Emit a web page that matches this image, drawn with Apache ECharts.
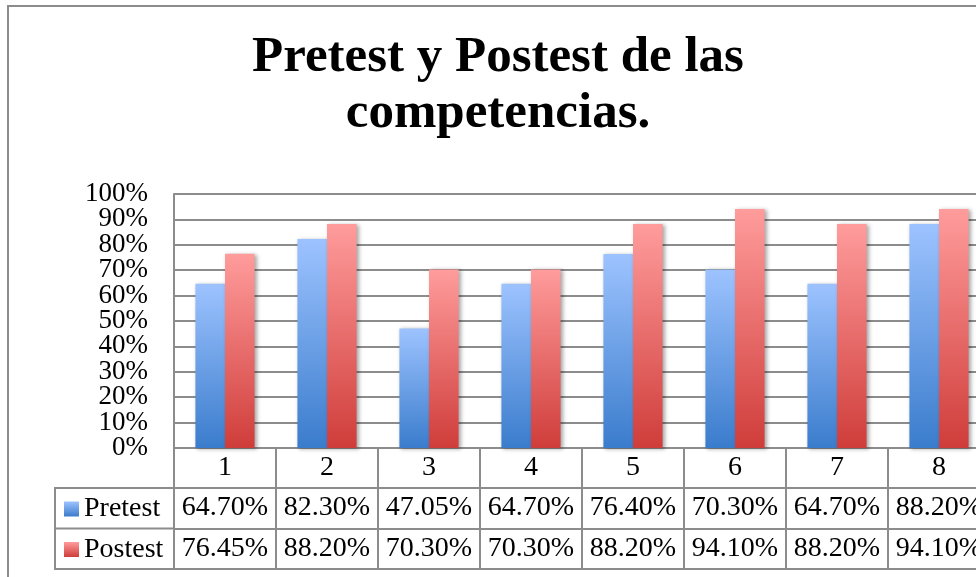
<!DOCTYPE html>
<html>
<head>
<meta charset="utf-8">
<script src="https://cdn.jsdelivr.net/npm/echarts@6/dist/echarts.min.js"></script>
<style>
html,body{margin:0;padding:0;background:#fff;overflow:hidden;width:976px;height:577px;}
#chart{width:996px;height:577px;}
</style>
</head>
<body>
<div id="chart"></div>
<script>
const titleText = 'Pretest y Postest de las\ncompetencias.';
const categories = ['1','2','3','4','5','6','7','8'];
const seriesNames = ['Pretest','Postest'];
const pretest = [64.70, 82.30, 47.05, 64.70, 76.40, 70.30, 64.70, 88.20];
const postest = [76.45, 88.20, 70.30, 70.30, 88.20, 94.10, 88.20, 94.10];
const yTicks = [0,10,20,30,40,50,60,70,80,90,100];

const FONT = 'Liberation Serif';
const GRAY = '#8c8c8c';
const chart = echarts.init(document.getElementById('chart'), null, {renderer:'canvas'});

const blueGrad = new echarts.graphic.LinearGradient(0,0,0,1,[
  {offset:0,color:'#9dc3ff'},{offset:1,color:'#3a7ccc'}]);
const redGrad = new echarts.graphic.LinearGradient(0,0,0,1,[
  {offset:0,color:'#ff9c9c'},{offset:1,color:'#cf3d3a'}]);

const fmt = v => v.toFixed(2) + '%';

function tableAxis(offset, values, showLabels, tickLen){
  return {
    type:'category', data:categories, position:'bottom', offset:offset,
    axisLine:{show:true, onZero:false, lineStyle:{color:GRAY, width:2}},
    axisTick:{show:tickLen>0, length:tickLen, interval:0, lineStyle:{color:GRAY, width:2}},
    axisLabel:{show:showLabels, interval:0, margin:6, fontFamily:FONT, fontSize:28, lineHeight:28, color:'#000',
      formatter:(v, i)=> values ? values[i] : v},
    splitLine:{show:false}
  };
}

function valueAxis(labelValues, main){
  return {
    type:'value', position:'left', min:yTicks[0], max:yTicks[yTicks.length-1], interval:10,
    axisLine:{show:main, onZero:false, lineStyle:{color:GRAY, width:2}},
    axisTick:{show:false},
    axisLabel:{margin:26, fontFamily:FONT, fontSize:27, color:'#000',
      customValues:labelValues, showMinLabel:true, showMaxLabel:true, formatter:v=>v+'%'},
    splitLine:{show:main, lineStyle:{color:GRAY, width:2}}
  };
}

const option = {
  animation:false,
  backgroundColor:'#fff',
  title:{
    text:titleText, left:'center', top:25,
    textStyle:{fontFamily:FONT, fontWeight:'bold', fontSize:51, lineHeight:56, color:'#000'}
  },
  legend:{
    data:seriesNames, orient:'vertical', left:64, top:495, padding:0, itemWidth:15, itemHeight:15,
    itemGap:12.5, icon:'rect',
    textStyle:{fontFamily:FONT, fontSize:28, color:'#000', lineHeight:28}
  },
  grid:{left:174, top:194, width:816, height:254, containLabel:false},
  xAxis:[
    tableAxis(0, null, true, 40),
    tableAxis(40, pretest.map(fmt), true, 41),
    tableAxis(80.5, postest.map(fmt), true, 41),
    tableAxis(121, null, false, 0)
  ],
  yAxis:[
    valueAxis(yTicks.filter((v,i)=>i%2===0), true),
    valueAxis(yTicks.filter((v,i)=>i%2===1), false)
  ],
  series:[
    {name:seriesNames[0], type:'bar', data:pretest, xAxisIndex:0, yAxisIndex:0, barGap:'0%', barCategoryGap:'42%',
     itemStyle:{color:blueGrad, shadowBlur:4, shadowColor:'rgba(0,0,0,0.35)', shadowOffsetX:2, shadowOffsetY:1}},
    {name:seriesNames[1], type:'bar', data:postest, xAxisIndex:0, yAxisIndex:0, barGap:'0%', barCategoryGap:'42%',
     itemStyle:{color:redGrad, shadowBlur:4, shadowColor:'rgba(0,0,0,0.35)', shadowOffsetX:2, shadowOffsetY:1}}
  ],
  graphic:[
    {type:'rect', shape:{x:8, y:6, width:1200, height:800}, style:{fill:null, stroke:GRAY, lineWidth:2}, silent:true},
    {type:'rect', shape:{x:55, y:488, width:119, height:81}, style:{fill:null, stroke:GRAY, lineWidth:2}, silent:true},
    {type:'line', shape:{x1:55, y1:528.5, x2:174, y2:528.5}, style:{stroke:GRAY, lineWidth:2}, silent:true}
  ]
};
chart.setOption(option);
</script>
</body>
</html>
